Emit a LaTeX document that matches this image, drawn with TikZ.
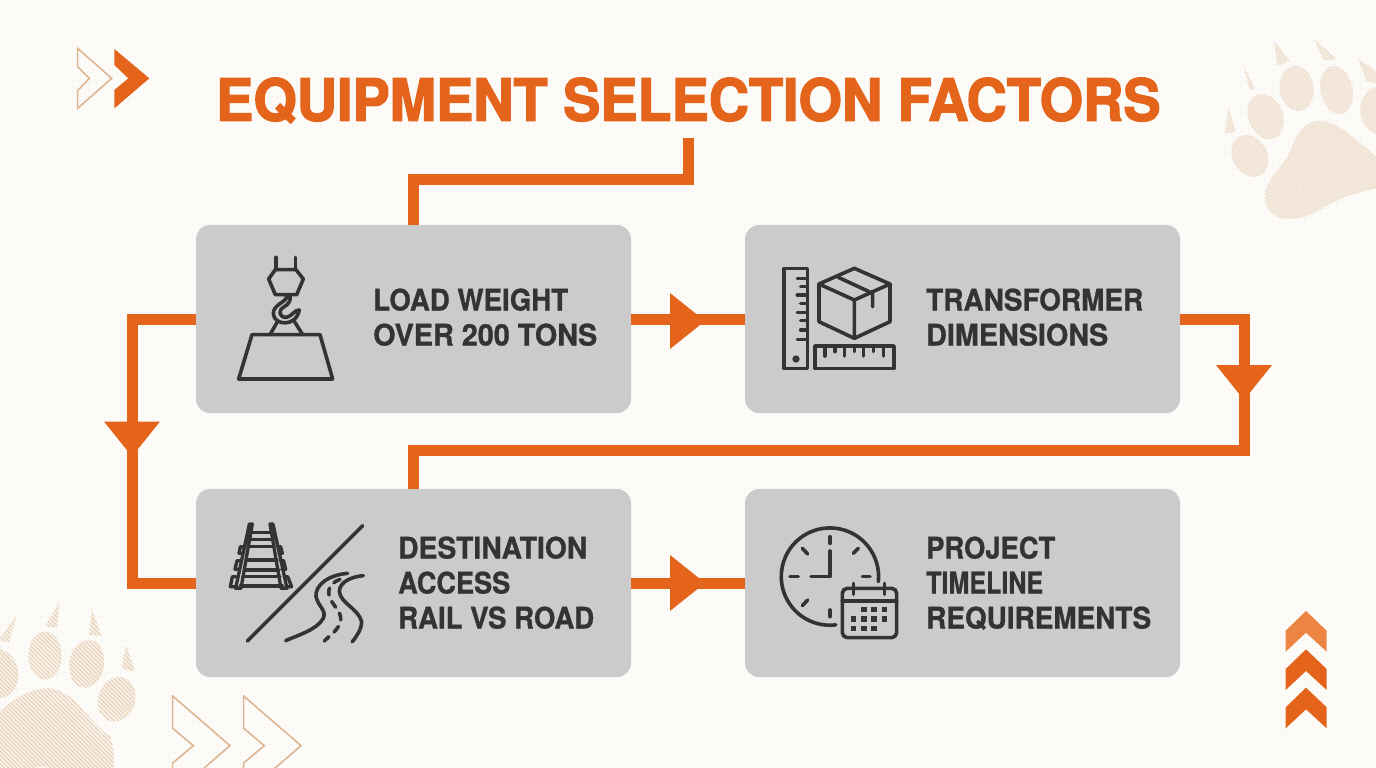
\documentclass[tikz,border=0pt]{standalone}
\usepackage{graphicx}
\usepackage{fontspec}
\setmainfont{TeX Gyre Heros}
\newfontfamily\headfont[FakeBold=2.4]{TeX Gyre Heros Bold}
\newfontfamily\capfont[FakeBold=0.9]{TeX Gyre Heros Bold}
\usetikzlibrary{patterns.meta}
\definecolor{paper}{HTML}{FCFBF8}
\definecolor{weave}{HTML}{FAF8F4}
\definecolor{flow}{HTML}{E4641B}
\definecolor{flowlight}{HTML}{EC8543}
\definecolor{panel}{HTML}{CBCBCB}
\definecolor{ink}{HTML}{333333}
\definecolor{tan}{HTML}{DDB694}
\definecolor{hatch}{HTML}{EBD6C0}
\definecolor{hatchsoft}{HTML}{EFDDCB}
\tikzset{
  panelbox/.style={fill=panel,rounded corners=14pt,minimum width=435pt,minimum height=188pt,inner sep=0pt,outer sep=0pt},
  label/.style={anchor=west,align=left,text=ink,font=\fontsize{30}{35}\selectfont\capfont,inner sep=0pt},
  link/.style={draw=flow,line width=11pt,line join=miter},
  glyph/.style={draw=ink,line width=3.6pt,line cap=round,line join=round},
  railpart/.style={glyph,line width=3.3pt},
  pawmark/.style={pattern={Lines[angle=-45,distance=3pt,line width=1.7pt]},pattern color=hatch},
  softpaw/.style={pattern={Lines[angle=-45,distance=2.4pt,line width=1.5pt]},pattern color=hatchsoft},
  zoomed/.style={x=0.3333pt,y=-0.3333pt},
}
% flow direction marker: tip points along +x of the rotated frame
\newcommand{\flowhead}[3]{\fill[flow,shift={(#1,#2)},rotate=#3] (-17.5pt,-28pt) -- (17.5pt,0pt) -- (-17.5pt,28pt) -- cycle;}
% caption line set to a fixed width and capital height
\newcommand{\capline}[2]{\raisebox{0pt}[\height][0pt]{\resizebox{#1pt}{22pt}{#2}}}
\begin{document}
\begin{tikzpicture}[x=1pt,y=-1pt]
\useasboundingbox (0,0) rectangle (1376,768);
\fill[paper] (0,0) rectangle (1376,768);
\begin{scope}
\clip (0,0) rectangle (1376,768);
\foreach \i in {0,8,...,1376} \draw[weave,line width=0.5pt] (\i,0) -- (\i,768);
\foreach \i in {0,8,...,768} \draw[weave,line width=0.5pt] (0,\i) -- (1376,\i);

% paw, upper right
\begin{scope}[shift={(1200,20)},zoomed]
  \path[softpaw] (150,408) circle[x radius=52,y radius=66,rotate=30];
  \path[softpaw] (197,290) circle[x radius=52,y radius=70,rotate=22];
  \path[softpaw] (290,205) circle[x radius=51,y radius=68,rotate=8];
  \path[softpaw] (410,210) circle[x radius=48,y radius=73,rotate=12];
  \path[softpaw] (545,270) circle[x radius=64,y radius=74,rotate=0];
  \path[softpaw] (75,342) -- (85,262) -- (107,335) -- cycle;
  \path[softpaw] (150,212) -- (130,137) -- (165,205) -- cycle;
  \path[softpaw] (232,135) -- (222,62) -- (270,124) -- cycle;
  \path[softpaw] (372,122) -- (342,58) -- (410,118) -- cycle;
  \path[softpaw] (500,185) -- (475,118) -- (540,160) -- (545,190) -- cycle;
  \path[softpaw] (195,520) .. controls (205,470) and (250,440) .. (275,385)
     .. controls (290,335) and (320,300) .. (365,303)
     .. controls (430,310) and (480,375) .. (530,410)
     .. controls (570,430) and (600,480) .. (580,500)
     .. controls (500,505) and (420,530) .. (340,580)
     .. controls (290,605) and (190,615) .. (195,520) -- cycle;
\end{scope}

% paw, lower left
\begin{scope}[shift={(0,590)},zoomed]
  \path[pawmark] (135,197) circle[x radius=50,y radius=72,rotate=0];
  \path[pawmark] (260,222) circle[x radius=52,y radius=72,rotate=-10];
  \path[pawmark] (350,328) circle[x radius=55,y radius=68,rotate=-18];
  \path[pawmark] (-5,250) circle[x radius=60,y radius=74,rotate=10];
  \path[pawmark] (135,110) -- (178,35) -- (172,112) -- cycle;
  \path[pawmark] (268,135) -- (275,55) -- (305,138) -- cycle;
  \path[pawmark] (365,235) -- (378,165) -- (405,245) -- cycle;
  \path[pawmark] (-5,150) -- (50,75) -- (28,158) -- cycle;
  \path[pawmark] (-20,390) .. controls (30,320) and (100,295) .. (150,295)
     .. controls (220,300) and (260,390) .. (330,440)
     .. controls (350,500) and (340,560) .. (330,560) -- (330,600) -- (-20,600) -- cycle;
  \fill[paper] (90,545) .. controls (110,525) and (140,525) .. (160,545) -- (160,600) -- (90,600) -- cycle;
\end{scope}

% decorative chevrons
\begin{scope}[shift={(60,30)},zoomed]
  \draw[tan,line width=1.6pt,line join=miter] (53,55) -- (155,145) -- (53,235) -- (53,182) -- (88,145) -- (53,110) -- cycle;
  \fill[flow] (163,57) -- (268,145) -- (163,235) -- (163,180) -- (205,145) -- (163,105) -- cycle;
\end{scope}
\begin{scope}[shift={(0,590)},zoomed]
  \foreach \dx in {0,213}
    \draw[tan,line width=1.6pt,xshift=\dx*0.3333pt] (518,318) -- (690,467) -- (518,616) -- (518,519) -- (580,467) -- (518,415) -- cycle;
\end{scope}
\begin{scope}[shift={(1270,600)},zoomed]
  \fill[flowlight] (108,33) -- (170,92) -- (170,155) -- (108,98) -- (47,155) -- (47,92) -- cycle;
  \foreach \dy/\c in {115/flow,230/flow}
    \fill[\c,yshift=-\dy*0.3333pt] (108,33) -- (170,92) -- (170,155) -- (108,98) -- (47,155) -- (47,92) -- cycle;
\end{scope}
\end{scope}

% heading
\node[inner sep=0pt,text=flow,anchor=north west] (heading) at (216,77.5)
  {\raisebox{0pt}[\height][0pt]{\resizebox{944pt}{43pt}{\headfont EQUIPMENT SELECTION FACTORS}}};
\coordinate (headdrop) at (688.5,138);

% factor panels
\node[panelbox] (load) at (413.5,319) {};
\node[panelbox] (size) at (962.5,319) {};
\node[panelbox] (route) at (413.5,583) {};
\node[panelbox] (time) at (962.5,583) {};

% connectors
\draw[link] (headdrop) -- (688.5,179) -| (413.5,0 |- load.north);
\draw[link] (load.east) -- (size.west);
\draw[link] (size.east) -- (1244,319) |- (413.5,450) -- (route.north);
\draw[link] (load.west) -- (132,319) |- (route.west);
\draw[link] (route.east) -- (time.west);
\flowhead{687.5}{321}{0}
\flowhead{687.5}{583}{0}
\flowhead{1244}{382.5}{-90}
\flowhead{132}{439}{-90}

% panel captions
\node[label] (loadtext) at (373,317) {\capline{195}{LOAD WEIGHT}\\\capline{224}{OVER 200 TONS}};
\node[label] (sizetext) at (926,317) {\capline{217}{TRANSFORMER}\\\capline{182}{DIMENSIONS}};
\node[label] (routetext) at (398,582.5) {\capline{189}{DESTINATION}\\\capline{112}{ACCESS}\\\capline{196}{RAIL VS ROAD}};
\node[label] (timetext) at (926,582.5) {\capline{129}{PROJECT}\\\capline{117}{TIMELINE}\\\capline{225}{REQUIREMENTS}};

% crane hook and load
\begin{scope}[shift={(196,224)},zoomed]
  \draw[glyph] (240,100) -- (240,137) (298,100) -- (298,137);
  \draw[glyph] (218,165) -- (238,137) -- (300,137) -- (322,165) -- (302,212) -- (238,212) -- cycle;
  \draw[glyph] (272,215) .. controls (275,235) and (230,240) .. (232,270)
     .. controls (235,305) and (300,310) .. (310,258)
     .. controls (295,258) and (290,275) .. (272,280) .. controls (250,282) and (245,260) .. (262,250)
     .. controls (280,240) and (285,228) .. (282,215);
  \draw[glyph] (222,332) -- (245,292) (320,332) -- (295,292);
  \draw[glyph] (168,332) -- (372,332) -- (410,465) -- (128,465) -- cycle;
\end{scope}

% rulers and carton
\begin{scope}[shift={(760,250)},zoomed]
  \draw[glyph] (72,55) rectangle (142,355);
  \foreach \y/\e in {85/112,110/122,135/112,160/122,187/112,212/122,240/122,268/112}
    \draw[glyph] (142,\y) -- (\e,\y);
  \draw[ink,line width=3pt] (108,327) circle[radius=6];
  \draw[glyph] (165,288) rectangle (402,355);
  \foreach \x/\e in {195/318,225/305,253/318,283/305,311/318,340/305,370/318}
    \draw[glyph] (\x,288) -- (\x,\e);
  \draw[glyph] (283,55) -- (390,102) -- (390,215) -- (283,265) -- (177,215) -- (177,102) -- cycle;
  \draw[glyph] (177,102) -- (283,150) -- (390,102) (283,150) -- (283,265);
  \draw[glyph] (235,82) -- (338,130) -- (338,170);
\end{scope}

% rail track, divider and road
\begin{scope}[shift={(215,510)},zoomed]
  \draw[railpart] (103,42) -- (62,235) -- (78,235) -- (112,42) -- cycle;
  \draw[railpart] (165,42) -- (198,235) -- (216,235) -- (174,42) -- cycle;
  \foreach \y/\a/\b in {67/108/170,88/105/172,110/100/177,150/93/186,180/88/190,200/83/195,228/76/202}
    \draw[railpart] (\a,\y) -- (\b,\y);
  \draw[railpart] (84,110) -- (76,110) -- (72,130) -- (80,130);
  \draw[railpart] (74,152) -- (66,152) -- (60,178) -- (70,178);
  \draw[railpart] (63,200) -- (52,200) -- (46,230) -- (60,230);
  \draw[railpart] (188,110) -- (197,110) -- (202,130) -- (192,130);
  \draw[railpart] (196,152) -- (206,152) -- (212,178) -- (200,178);
  \draw[railpart] (208,200) -- (218,200) -- (230,230) -- (214,230);
  \draw[glyph] (97,393) -- (443,47);
  \draw[glyph] (398,190) .. controls (340,195) and (300,225) .. (303,260)
     .. controls (310,290) and (335,300) .. (325,325) .. controls (305,360) and (250,375) .. (212,392);
  \draw[glyph] (445,197) .. controls (410,200) and (375,215) .. (373,243)
     .. controls (375,280) and (430,295) .. (440,335) .. controls (440,360) and (420,385) .. (412,395);
  \draw[glyph,dash pattern=on 7pt off 7pt] (375,208) .. controls (345,220) and (335,240) .. (345,265)
     .. controls (360,295) and (385,310) .. (375,340) .. controls (365,365) and (340,380) .. (328,393);
\end{scope}

% clock and calendar
\begin{scope}[shift={(765,515)},zoomed]
  \draw[glyph] (340,200) arc[start angle=6,end angle=-277,radius=146];
  \foreach \a/\b/\c/\d in {195/65/195/85,265/115/280/100,292/185/315/185,112/272/128/255,195/285/195/305,75/185/100/185,112/100/128/117}
    \draw[glyph] (\a,\b) -- (\c,\d);
  \draw[glyph] (195,108) -- (195,185) -- (138,185);
  \draw[glyph,rounded corners=5pt] (232,220) rectangle (395,368);
  \draw[glyph] (232,258) -- (395,258);
  \draw[glyph] (265,205) -- (265,238) (358,205) -- (358,238);
  \foreach \x/\y in {297/283,327/283,358/283,266/312,297/312,327/312,358/312,266/340,297/340,327/340}
    \fill[ink] (\x-8,\y-8) rectangle (\x+8,\y+8);
\end{scope}
\end{tikzpicture}
\end{document}
